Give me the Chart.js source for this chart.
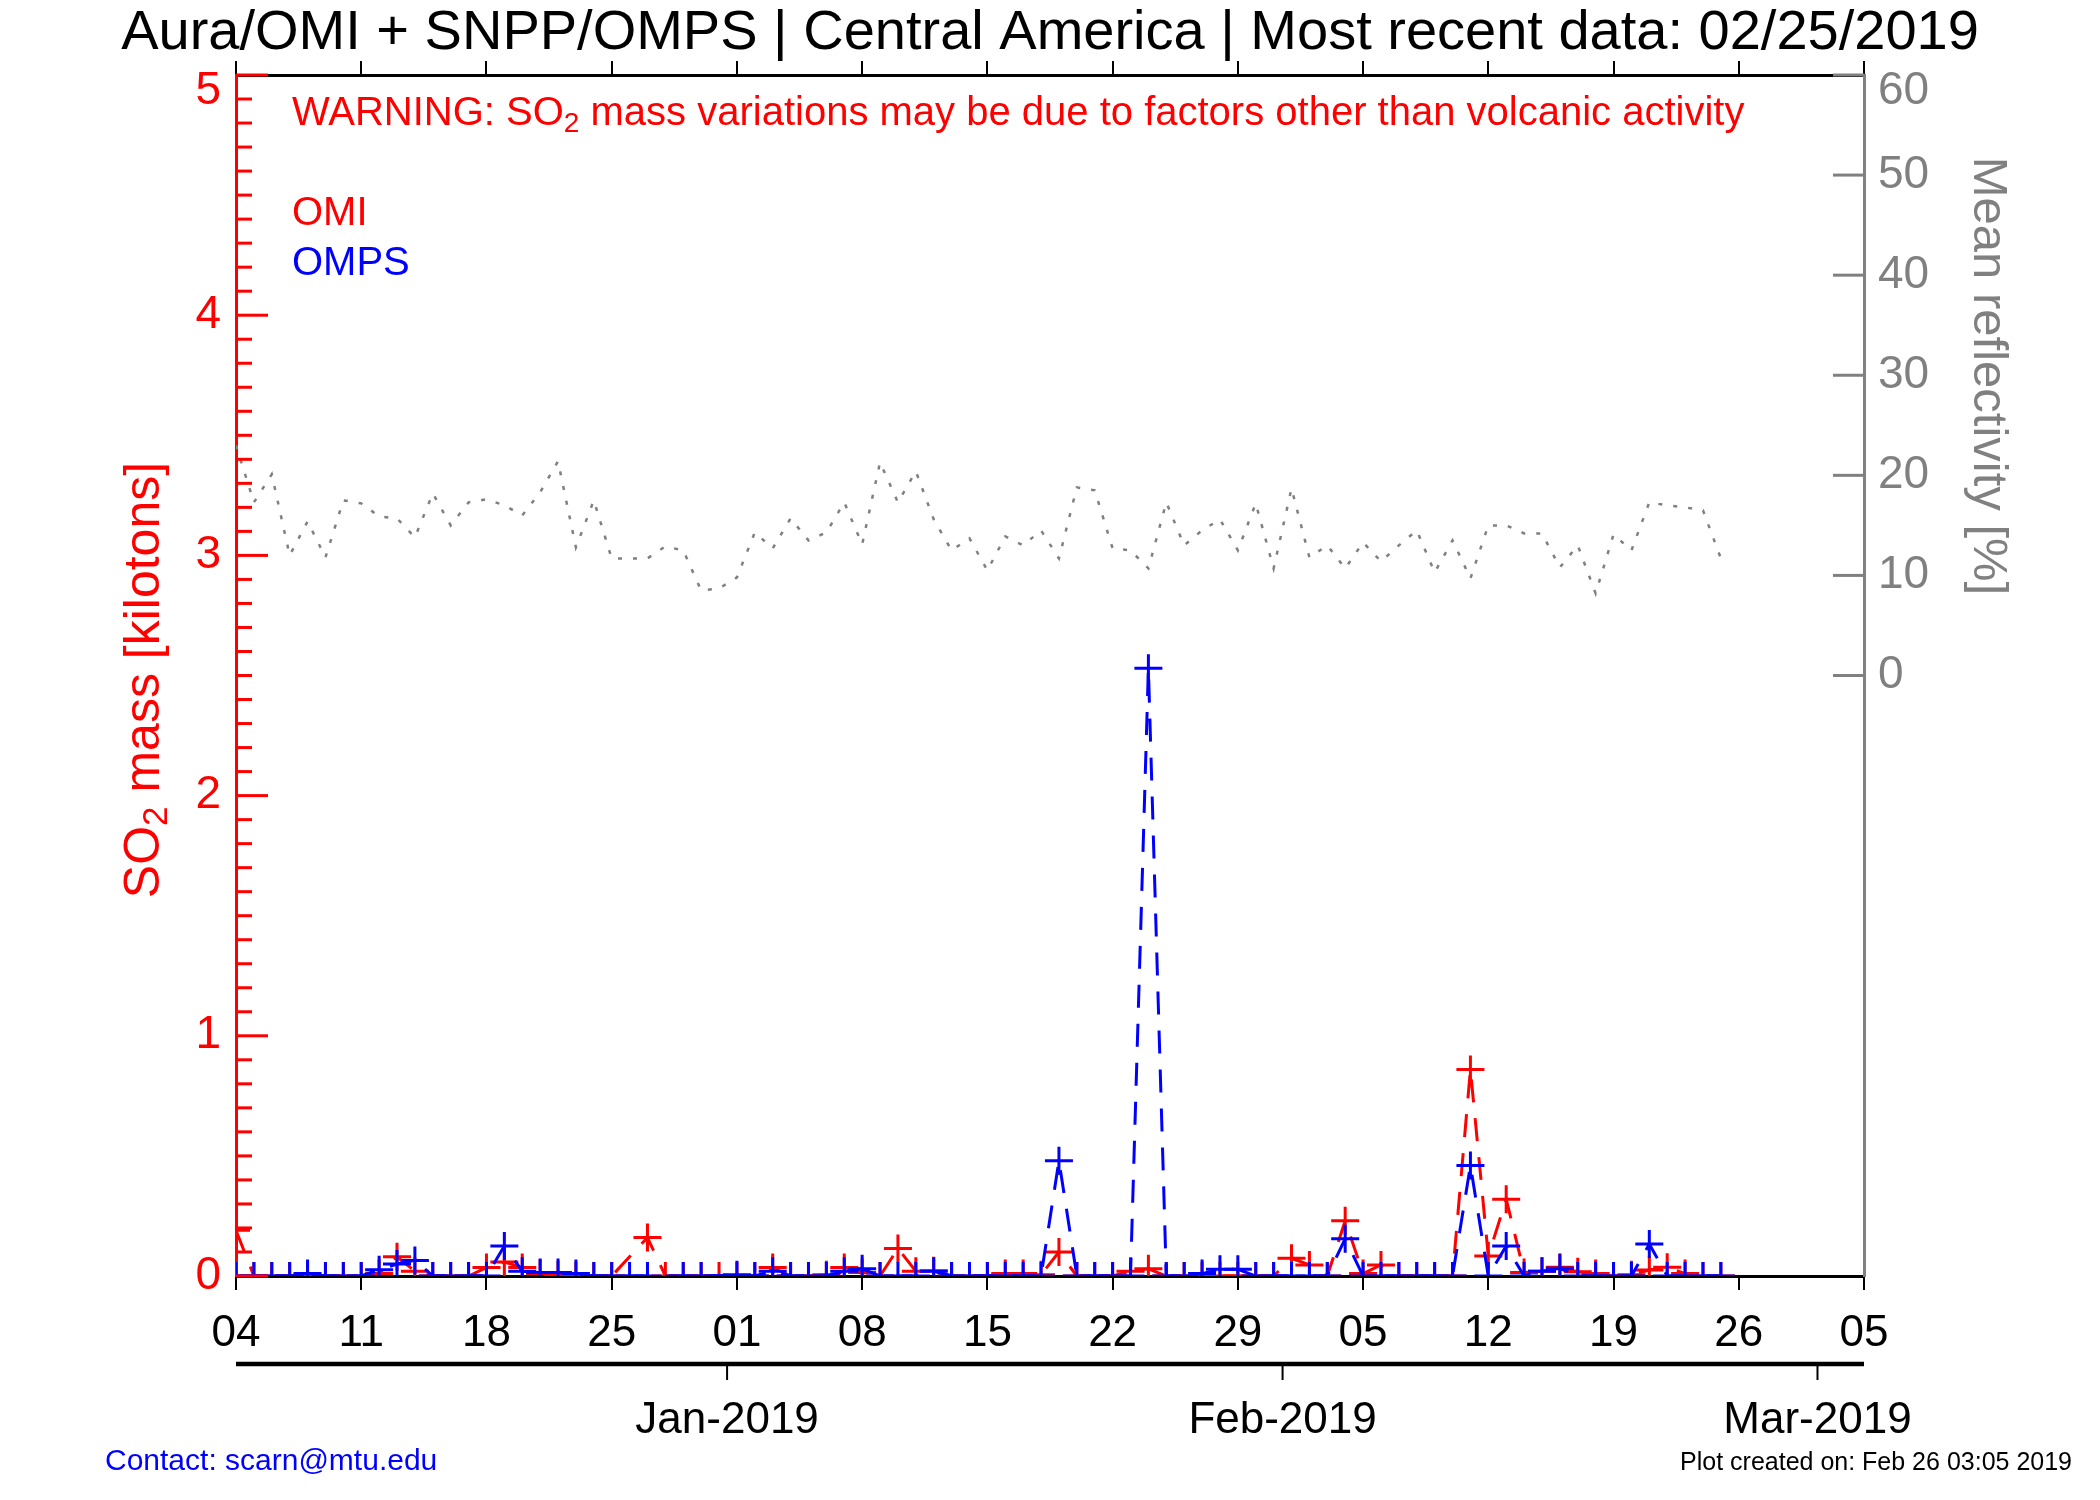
<!DOCTYPE html>
<html>
<head>
<meta charset="utf-8">
<title>Aura/OMI + SNPP/OMPS | Central America</title>
<script src="https://cdn.jsdelivr.net/npm/chart.js@4.4.1/dist/chart.umd.min.js"></script>
<style>
  html, body { margin: 0; padding: 0; background: #fff; }
  #wrap { width: 2100px; height: 1500px; }
</style>
</head>
<body>
<div id="wrap"><canvas id="so2Chart" width="2100" height="1500"></canvas></div>
<script>
// one value per day, starting 04 Dec 2018 and ending 25 Feb 2019 (null = no data)
const omiValues = [
  0.19, 0, 0, 0, 0.005, 0, 0, 0, 0.01, 0.08,
  0.02, 0, 0, 0, 0.035, 0.058, 0.035, 0.01, 0.005, 0,
  0, 0, null, 0.16, 0, 0, 0, 0, 0, 0,
  0.035, 0, 0, 0.005, 0.035, 0.015, 0, 0.115, 0.02, 0.022,
  0, 0, 0, 0.01, 0.01, 0.005, 0.10, 0, 0, 0,
  0.02, 0.03, 0, 0, 0, 0, 0, 0, 0, 0.074,
  0.046, 0, 0.23, 0.01, 0.046, 0, 0, 0, 0, 0.86,
  0.083, 0.32, 0.015, 0.02, 0.036, 0.018, 0.01, 0, 0.005, 0.025,
  0.036, 0.01, 0, 0
];
const ompsValues = [
  0, 0, 0, 0, 0.01, 0, 0, 0, 0.026, 0.05,
  0.065, 0, 0, 0, 0, 0.125, 0.02, 0.015, 0.015, 0.01,
  0, 0, 0, 0, null, 0, 0, null, 0.005, 0,
  0.02, 0, 0, 0, 0.02, 0.03, 0, 0, 0, 0.02,
  0, 0, 0, 0, 0, 0, 0.48, 0, 0, 0,
  0, 2.53, 0, 0, 0.01, 0.028, 0.028, 0, 0, 0,
  0, 0, 0.155, 0, 0, 0, 0, 0, 0, 0.46,
  0, 0.125, 0, 0.02, 0.032, 0, 0, 0, 0, 0.133,
  0, 0, 0, 0
];
const reflectivity = [
  23.0, 17.3, 20.1, 12.0, 15.4, 11.8, 17.5, 17.2, 15.9, 15.7,
  13.8, 18.2, 15.0, 17.3, 17.6, 17.0, 16.0, 18.3, 21.4, 12.8,
  17.5, 11.7, 11.7, 11.7, 12.9, 12.5, 8.5, 8.7, 9.8, 14.3,
  12.7, 15.7, 13.5, 14.3, 17.3, 13.1, 21.3, 17.3, 20.4, 15.6,
  12.5, 13.7, 10.5, 13.9, 13.0, 14.5, 11.7, 18.8, 18.5, 12.7,
  12.5, 10.7, 17.3, 13.0, 14.5, 15.6, 12.5, 17.2, 10.7, 18.7,
  11.8, 13.0, 10.7, 13.3, 11.4, 13.0, 14.5, 10.3, 13.5, 9.7,
  15.0, 15.0, 14.2, 14.2, 10.8, 13.0, 8.2, 14.1, 12.5, 17.3,
  17.0, 16.8, 16.5, 11.7
];
// weekly ticks from 04 Dec 2018 to 05 Mar 2019
const weekTickLabels = ['04', '11', '18', '25', '01', '08', '15', '22', '29', '05', '12', '19', '26', '05'];
// month marks of the lower date axis, in days after 04 Dec (as placed on the original plot)
const monthTickDays = [27.45, 58.5, 88.4];
const monthTickLabels = ['Jan-2019', 'Feb-2019', 'Mar-2019'];

const FONT = '"Liberation Sans", Arial, Helvetica, sans-serif';
Chart.defaults.font.family = FONT;

function toPoints(values) {
  return values.map((v, i) => ({ x: i, y: v }));
}

// text with subscript pieces, y is the middle of the capitals
function drawRich(ctx, parts, x, y, size, align) {
  const subSize = size * 0.7;
  ctx.textBaseline = 'alphabetic';
  ctx.textAlign = 'left';
  let total = 0;
  parts.forEach(p => {
    ctx.font = (p.sub ? subSize : size) + 'px ' + FONT;
    total += ctx.measureText(p.t).width;
  });
  let cx = x;
  if (align === 'center') cx = x - total / 2;
  if (align === 'right') cx = x - total;
  const base = y + size * 0.358;
  parts.forEach(p => {
    ctx.font = (p.sub ? subSize : size) + 'px ' + FONT;
    ctx.fillText(p.t, cx, p.sub ? base + size * 0.16 : base);
    cx += ctx.measureText(p.t).width;
  });
}

function hline(ctx, x1, y1, x2, y2) {
  ctx.beginPath();
  ctx.moveTo(x1, y1);
  ctx.lineTo(x2, y2);
  ctx.stroke();
}

const frame = {
  id: 'frame',
  afterDraw(chart) {
    const { ctx, chartArea: a, scales } = chart;
    const yL = scales.y, yR = scales.y2, x = scales.x;
    ctx.save();

    // left axis: major ticks every kiloton, minor every 0.1, pointing inward
    ctx.strokeStyle = '#ff0000';
    ctx.lineWidth = 3;
    for (let i = 0; i <= 50; i++) {
      const py = yL.getPixelForValue(i / 10);
      hline(ctx, a.left, py, a.left + (i % 10 === 0 ? 32 : 16), py);
    }
    // right axis ticks only on the 0..60 part
    ctx.strokeStyle = '#808080';
    for (let v = 0; v <= 60; v += 10) {
      const py = yR.getPixelForValue(v);
      hline(ctx, a.right - 31, py, a.right, py);
    }

    // the top labels sit a little below their tick, as in the original
    ctx.fillStyle = '#ff0000';
    drawRich(ctx, [{ t: String(yL.max) }], a.left - 15, yL.getPixelForValue(yL.max) + 13, 46, 'right');
    ctx.fillStyle = '#808080';
    drawRich(ctx, [{ t: String(yR.max) }], a.right + 14, yR.getPixelForValue(yR.max) + 13, 46, 'left');

    // second date axis with the months
    ctx.strokeStyle = '#000';
    ctx.lineWidth = 4.5;
    hline(ctx, a.left, 1364, a.right, 1364);
    ctx.lineWidth = 2;
    ctx.fillStyle = '#000';
    ctx.font = '44px ' + FONT;
    ctx.textAlign = 'center';
    ctx.textBaseline = 'middle';
    monthTickDays.forEach((d, i) => {
      const px = x.getPixelForValue(d);
      hline(ctx, px, 1364, px, 1380);
      ctx.fillText(monthTickLabels[i], px, 1421);
    });

    // notes inside the plot
    ctx.fillStyle = '#ff0000';
    drawRich(ctx, [{ t: 'WARNING: SO' }, { t: '2', sub: true },
      { t: ' mass variations may be due to factors other than volcanic activity' }], 292, 111, 40, 'left');
    drawRich(ctx, [{ t: 'OMI' }], 292, 211, 40, 'left');
    ctx.fillStyle = '#0000ff';
    drawRich(ctx, [{ t: 'OMPS' }], 292, 261, 40, 'left');

    // axis titles
    ctx.save();
    ctx.translate(141, 680);
    ctx.rotate(-Math.PI / 2);
    ctx.fillStyle = '#ff0000';
    drawRich(ctx, [{ t: 'SO' }, { t: '2', sub: true }, { t: ' mass [kilotons]' }], 0, 0, 50, 'center');
    ctx.restore();

    ctx.save();
    ctx.translate(1992, 376);
    ctx.rotate(Math.PI / 2);
    ctx.fillStyle = '#808080';
    drawRich(ctx, [{ t: 'Mean reflectivity [%]' }], 0, 0, 49, 'center');
    ctx.restore();

    // footer
    ctx.fillStyle = '#0000ff';
    drawRich(ctx, [{ t: 'Contact: scarn@mtu.edu' }], 105, 1459, 30, 'left');
    ctx.fillStyle = '#000';
    ctx.font = '25px ' + FONT;
    ctx.textAlign = 'right';
    ctx.textBaseline = 'alphabetic';
    ctx.fillText('Plot created on: Feb 26 03:05 2019', 2072, 1470);

    ctx.restore();
  }
};

const dateAxis = (position, showLabels) => ({
  type: 'linear',
  position: position,
  min: 0,
  max: 91,
  ticks: {
    display: showLabels,
    stepSize: 7,
    autoSkip: false,
    maxRotation: 0,
    color: '#000',
    font: { size: 44 },
    padding: 17,
    callback: (v) => weekTickLabels[Math.round(v / 7)]
  },
  grid: { drawOnChartArea: false, tickLength: 14, color: '#000', lineWidth: 2 },
  border: { color: '#000', width: 3 }
});

const xBottom = dateAxis('bottom', true);
xBottom.afterFit = (s) => { s.height = 224; };
const xTop = dateAxis('top', false);
xTop.afterFit = (s) => { s.height = 75 - 67.2; };

new Chart(document.getElementById('so2Chart'), {
  type: 'line',
  data: {
    datasets: [
      {
        label: 'OMPS',
        data: toPoints(ompsValues),
        yAxisID: 'y',
        borderColor: '#0000ff',
        borderWidth: 3,
        borderDash: [23, 16],
        pointStyle: 'cross',
        pointRadius: 14,
        pointBorderColor: '#0000ff',
        pointBorderWidth: 3,
        spanGaps: true,
        order: 1
      },
      {
        label: 'OMI',
        data: toPoints(omiValues),
        yAxisID: 'y',
        borderColor: '#ff0000',
        borderWidth: 3,
        borderDash: [23, 16],
        pointStyle: 'cross',
        pointRadius: 14,
        pointBorderColor: '#ff0000',
        pointBorderWidth: 3,
        spanGaps: true,
        order: 2
      },
      {
        label: 'Mean reflectivity',
        data: toPoints(reflectivity),
        yAxisID: 'y2',
        borderColor: '#808080',
        borderWidth: 2.5,
        borderDash: [4, 11],
        pointRadius: 0,
        order: 3
      }
    ]
  },
  options: {
    responsive: false,
    animation: false,
    devicePixelRatio: 1,
    events: [],
    layout: { padding: 0 },
    plugins: {
      legend: { display: false },
      tooltip: { enabled: false },
      title: {
        display: true,
        text: 'Aura/OMI + SNPP/OMPS | Central America | Most recent data: 02/25/2019',
        color: '#000',
        font: { size: 56, weight: 'normal', lineHeight: 1.2 },
        padding: { top: 0, bottom: 0 }
      }
    },
    scales: {
      x: xBottom,
      xTop: xTop,
      y: {
        position: 'left',
        min: 0,
        max: 5,
        ticks: {
          stepSize: 1, color: '#ff0000', font: { size: 46 }, padding: 15,
          callback: (v) => (v === 5 ? '' : String(v))
        },
        grid: { display: false, drawTicks: false },
        border: { color: '#ff0000', width: 3 },
        afterFit: (s) => { s.width = 236; }
      },
      y2: {
        position: 'right',
        min: -60,
        max: 60,
        ticks: {
          stepSize: 10, color: '#808080', font: { size: 46 }, padding: 14,
          callback: (v) => (v >= 0 && v < 60 ? String(v) : '')
        },
        grid: { display: false, drawTicks: false },
        border: { color: '#808080', width: 3 },
        afterFit: (s) => { s.width = 236; }
      }
    }
  },
  plugins: [frame]
});
</script>
</body>
</html>
